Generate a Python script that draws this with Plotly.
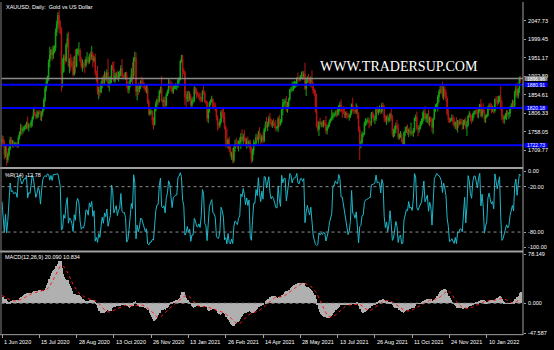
import plotly.graph_objects as go
import pandas as pd
import numpy as np

# ---------------- data ----------------
symbol_title = "XAUUSD, Daily:  Gold vs US Dollar"
wpr_title = "%R(14) -12.78"
macd_title = "MACD(12,26,9) 20.090 10.834"
watermark = "WWW.TRADERSUP.COM"

start_date = "2020-06-01"
end_date = "2022-02-18"
missing_days = ["2020-12-25", "2021-01-01", "2021-04-02", "2021-12-24"]

# closes before the visible window (indicator warm-up only, not drawn)
warmup_close = [1614, 1660, 1650, 1646, 1683, 1684, 1712, 1728, 1716, 1694, 1683, 1710, 1693, 1687,
                1713, 1729, 1735, 1705, 1686, 1700, 1708, 1702, 1705, 1688, 1698, 1702, 1697, 1714,
                1703, 1715, 1741, 1731, 1745, 1734, 1727, 1725, 1735, 1713, 1711, 1719, 1730]
first_open = 1730

close_weeks = [
    [1739, 1727, 1699, 1714, 1685], [1698, 1715, 1737, 1728, 1729], [1726, 1727, 1727, 1722, 1743],
    [1754, 1768, 1761, 1765, 1771], [1772, 1781, 1769, 1775, 1774], [1784, 1795, 1809, 1803, 1798],
    [1802, 1809, 1808, 1796, 1808], [1817, 1842, 1871, 1888, 1901], [1941, 1958, 1970, 1958, 1975],
    [1976, 2018, 2039, 2062, 2035], [2028, 1911, 1915, 1954, 1944], [1984, 2002, 1930, 1945, 1940],
    [1929, 1907, 1954, 1929, 1964], [1968, 1971, 1943, 1930, 1933], [1932, 1931, 1946, 1946, 1940],
    [1956, 1954, 1960, 1944, 1950], [1912, 1900, 1863, 1868, 1861], [1881, 1898, 1887, 1906, 1899],
    [1913, 1877, 1887, 1893, 1930], [1922, 1891, 1902, 1908, 1899], [1905, 1907, 1924, 1904, 1902],
    [1902, 1908, 1878, 1868, 1879], [1894, 1910, 1904, 1949, 1951], [1863, 1877, 1866, 1874, 1889],
    [1887, 1879, 1872, 1866, 1871], [1837, 1805, 1811, 1811, 1788], [1777, 1815, 1831, 1841, 1838],
    [1864, 1871, 1839, 1836, 1840], [1827, 1855, 1864, 1886, 1881], [1872, 1863, 1874, 1876],
    [1877, 1877, 1893, 1895], [1943, 1950, 1918, 1913, 1849], [1844, 1856, 1845, 1851, 1828],
    [1840, 1840, 1871, 1866, 1856], [1855, 1850, 1843, 1842, 1863], [1860, 1837, 1835, 1793, 1814],
    [1833, 1838, 1842, 1825, 1824], [1819, 1795, 1775, 1775, 1784], [1809, 1805, 1797, 1770, 1734],
    [1723, 1737, 1713, 1698, 1700], [1683, 1716, 1726, 1723, 1719], [1731, 1731, 1745, 1736, 1745],
    [1738, 1726, 1734, 1725, 1732], [1712, 1685, 1708, 1728], [1728, 1744, 1737, 1756, 1744],
    [1733, 1746, 1736, 1764, 1777], [1771, 1779, 1793, 1783, 1777], [1780, 1778, 1773, 1768, 1769],
    [1792, 1778, 1784, 1815, 1831], [1836, 1837, 1815, 1826, 1843], [1867, 1869, 1869, 1877, 1881],
    [1882, 1898, 1896, 1896, 1903], [1905, 1903, 1908, 1871, 1891], [1899, 1893, 1888, 1897, 1877],
    [1865, 1859, 1813, 1773, 1764], [1783, 1778, 1779, 1776, 1781], [1779, 1761, 1770, 1776, 1787],
    [1792, 1796, 1803, 1803, 1808], [1806, 1808, 1825, 1828, 1812], [1812, 1810, 1803, 1806, 1801],
    [1798, 1799, 1806, 1829, 1814], [1813, 1810, 1815, 1804, 1763], [1728, 1731, 1752, 1753, 1780],
    [1786, 1787, 1788, 1781, 1781], [1806, 1802, 1790, 1792, 1817], [1810, 1814, 1815, 1810, 1827],
    [1823, 1794, 1788, 1794, 1788], [1793, 1804, 1794, 1753, 1754], [1764, 1774, 1768, 1743, 1750],
    [1750, 1734, 1726, 1756, 1761], [1769, 1760, 1762, 1756, 1757], [1754, 1760, 1793, 1797, 1768],
    [1765, 1769, 1782, 1784, 1792], [1807, 1793, 1798, 1800, 1783], [1793, 1788, 1769, 1792, 1818],
    [1825, 1831, 1849, 1862, 1868], [1863, 1851, 1868, 1859, 1845], [1805, 1790, 1789, 1790, 1793],
    [1785, 1775, 1781, 1768, 1783], [1779, 1785, 1783, 1775, 1783], [1787, 1771, 1777, 1799, 1804],
    [1793, 1789, 1803, 1809], [1811, 1810, 1805, 1815, 1829], [1800, 1815, 1810, 1791, 1797],
    [1801, 1822, 1826, 1821, 1817], [1819, 1813, 1843, 1839, 1835], [1842, 1848, 1819, 1796, 1791],
    [1797, 1801, 1808, 1804, 1807], [1820, 1826, 1833, 1826, 1859], [1870, 1853, 1869, 1898, 1896.96],
]

upper_wick_weeks = [
    [10, 8, 10, 9, 13], [6, 5, 8, 7, 8], [6, 5, 4, 5, 6], [5, 11, 8, 6, 4], [5, 4, 17, 6, 5],
    [5, 4, 10, 15, 6], [12, 4, 6, 5, 4], [3, 6, 6, 9, 4], [6, 22, 4, 11, 8], [8, 10, 9, 8, 13],
    [14, 3, 34, 6, 6], [6, 13, 18, 5, 16], [13, 14, 2, 20, 11], [8, 21, 5, 10, 14], [6, 14, 8, 20, 8],
    [6, 12, 22, 6, 6], [12, 6, 30, 7, 16], [9, 4, 9, 10, 7], [8, 36, 15, 9, 3], [10, 20, 10, 6, 9],
    [10, 11, 8, 24, 5], [11, 6, 7, 12, 10], [6, 14, 30, 4, 16], [14, 6, 10, 8, 4], [13, 8, 8, 7, 10],
    [8, 6, 10, 5, 3], [8, 4, 6, 4, 10], [3, 5, 32, 5, 10], [9, 5, 4, 10, 8], [10, 15, 8, 6],
    [8, 6, 6, 5], [2, 9, 9, 6, 4], [15, 8, 10, 12, 6], [6, 10, 6, 4, 5], [7, 6, 10, 6, 4],
    [15, 5, 4, 4, 6], [4, 5, 10, 4, 10], [10, 4, 6, 8, 8], [6, 10, 15, 12, 4], [32, 4, 8, 8, 6],
    [16, 4, 11, 16, 12], [5, 12, 10, 20, 8], [18, 5, 8, 12, 4], [6, 7, 6, 10], [5, 9, 5, 5, 14],
    [10, 4, 12, 4, 8], [20, 6, 7, 14, 9], [8, 12, 7, 16, 4], [5, 10, 7, 3, 13], [7, 8, 15, 10, 4],
    [3, 6, 20, 12, 10], [8, 3, 15, 5, 3], [10, 12, 8, 30, 8], [4, 10, 8, 6, 22], [12, 6, 8, 44, 12],
    [4, 12, 6, 8, 8], [7, 20, 5, 6, 3], [3, 20, 6, 5, 6], [7, 11, 3, 8, 15], [10, 12, 8, 5, 6],
    [6, 5, 8, 3, 18], [6, 7, 17, 12, 4], [9, 5, 7, 3, 5], [8, 4, 8, 7, 4], [4, 5, 5, 8, 5],
    [8, 6, 12, 5, 7], [7, 4, 8, 6, 11], [6, 4, 14, 8, 12], [10, 8, 15, 11, 4], [10, 5, 7, 3, 10],
    [4, 8, 4, 8, 25], [6, 8, 2, 6, 14], [8, 6, 4, 9, 19], [9, 18, 8, 6, 16], [5, 5, 6, 3, 4],
    [5, 2, 5, 6, 10], [10, 26, 9, 8, 10], [5, 12, 6, 4, 10], [9, 12, 4, 15, 6], [6, 7, 8, 8, 6],
    [4, 9, 10, 3, 8], [4, 9, 4, 4], [4, 10, 6, 4, 2], [15, 5, 18, 6, 6], [4, 3, 6, 8, 11],
    [7, 5, 2, 8, 12], [10, 5, 29, 20, 7], [4, 6, 6, 7, 3], [5, 6, 9, 7, 6], [10, 17, 4, 4, 5],
]

lower_wick_weeks = [
    [6, 10, 12, 8, 15], [8, 5, 6, 8, 10], [10, 6, 8, 7, 5], [5, 6, 12, 8, 6], [8, 6, 5, 10, 4],
    [6, 12, 5, 4, 7], [6, 8, 4, 8, 10], [8, 4, 6, 8, 10], [10, 15, 10, 15, 10], [12, 8, 10, 12, 20],
    [16, 48, 37, 2, 10], [4, 6, 4, 19, 24], [5, 5, 2, 18, 3], [5, 12, 4, 7, 15], [8, 20, 5, 8, 6],
    [4, 10, 8, 18, 5], [6, 12, 8, 20, 10], [3, 10, 8, 7, 6], [10, 4, 14, 5, 8], [4, 4, 5, 7, 5],
    [10, 9, 4, 6, 7], [5, 8, 5, 9, 10], [5, 6, 25, 7, 8], [13, 23, 12, 5, 4], [6, 6, 5, 5, 8],
    [6, 5, 5, 8, 13], [13, 3, 4, 8, 10], [4, 6, 3, 12, 14], [8, 3, 4, 6, 10], [8, 5, 6, 5],
    [7, 10, 5, 10], [3, 5, 17, 5, 21], [27, 8, 10, 6, 5], [10, 8, 5, 10, 11], [5, 9, 8, 7, 6],
    [5, 4, 5, 8, 12], [6, 6, 4, 7, 8], [8, 7, 14, 9, 6], [4, 12, 15, 6, 17], [5, 10, 8, 6, 13],
    [7, 6, 10, 5, 6], [12, 8, 18, 4, 12], [6, 5, 12, 8, 7], [9, 8, 5, 10], [5, 4, 3, 10, 5],
    [8, 3, 8, 6, 6], [4, 11, 8, 6, 6], [9, 5, 6, 9, 6], [12, 8, 4, 3, 14], [8, 12, 5, 7, 6],
    [4, 6, 6, 5, 6], [8, 6, 8, 7, 5], [5, 10, 8, 4, 20], [6, 8, 6, 12, 6], [8, 8, 5, 4, 6],
    [17, 4, 8, 6, 7], [6, 8, 10, 4, 5], [6, 6, 7, 8, 5], [10, 6, 7, 14, 3], [18, 6, 9, 9, 10],
    [4, 11, 5, 3, 3], [8, 5, 6, 12, 5], [44, 13, 5, 8, 4], [7, 10, 6, 14, 9], [7, 8, 6, 12, 6],
    [5, 9, 6, 6, 5], [5, 10, 6, 12, 3], [6, 8, 6, 8, 10], [8, 10, 4, 6, 5], [8, 4, 5, 4, 10],
    [6, 10, 16, 6, 8], [6, 9, 4, 7, 6], [19, 9, 5, 8, 6], [5, 4, 10, 17, 6], [10, 4, 12, 17, 2],
    [8, 6, 20, 14, 5], [6, 6, 10, 12, 8], [5, 8, 8, 6, 5], [10, 6, 10, 6, 12], [8, 4, 5, 12, 10],
    [8, 6, 24, 5, 4], [8, 10, 4, 8], [6, 6, 10, 12, 6], [4, 5, 4, 8, 10], [3, 4, 8, 6, 10],
    [7, 8, 5, 8, 10], [5, 7, 5, 8, 11], [12, 6, 12, 8, 13], [10, 3, 6, 8, 5], [10, 7, 8, 10, 11],
]

level_prices = [1880.91, 1820.18, 1722.73]
price_ticks = [2047.73, 1999.45, 1951.17, 1902.89, 1854.61, 1806.33, 1758.05, 1709.77]
wpr_ticks = [0, -20, -80, -100]
wpr_tick_text = ["0.00", "-20.00", "-80.00", "-100.00"]
wpr_levels = [-20, -80]
macd_ticks = [78.149, 0.0, -47.587]
macd_tick_text = ["78.149", "0.000", "-47.587"]
x_label_dates = ["2020-06-01", "2020-07-15", "2020-08-28", "2020-10-13", "2020-11-26",
                 "2021-01-13", "2021-02-26", "2021-04-14", "2021-05-28", "2021-07-13",
                 "2021-08-26", "2021-10-11", "2021-11-24", "2022-01-10"]

# ---------------- derived series ----------------
close = [c for w in close_weeks for c in w]
uw = [v for w in upper_wick_weeks for v in w]
lw = [v for w in lower_wick_weeks for v in w]
dates = pd.bdate_range(start_date, end_date).drop(pd.to_datetime(missing_days))
N = min(len(close), len(uw), len(lw), len(dates))
close, uw, lw, dates = close[:N], uw[:N], lw[:N], dates[:N]
opens = [first_open] + close[:-1]
high = [max(o, c) + u for o, c, u in zip(opens, close, uw)]
low = [min(o, c) - l for o, c, l in zip(opens, close, lw)]
idx = list(range(N))

hs, ls, cs = pd.Series(high), pd.Series(low), pd.Series(close)
hh = hs.rolling(14, min_periods=1).max()
ll = ls.rolling(14, min_periods=1).min()
wpr = (-100 * (hh - cs) / (hh - ll).replace(0, np.nan)).fillna(-50)

full = pd.Series(warmup_close + close, dtype=float)
macd_full = full.ewm(span=12, adjust=False).mean() - full.ewm(span=26, adjust=False).mean()
sig_full = macd_full.rolling(9, min_periods=1).mean()
macd = macd_full.iloc[len(warmup_close):].to_numpy()
signal = sig_full.iloc[len(warmup_close):].to_numpy()

tick_pos = [dates.get_loc(pd.Timestamp(d)) for d in x_label_dates]
tick_txt = [pd.Timestamp(d).strftime("%-d %b %Y") for d in x_label_dates]

# ---------------- layout helpers ----------------
W, H = 554, 350
def fx(p): return p / W
def fy(p): return 1 - p / H

FONT = "Liberation Sans"
FS = 5.5
AXC = "#a0a0a0"
X_DOM = [fx(1.5), fx(523)]
X_RANGE = [-0.43, N + 1.1]
MAIN_RANGE = [1665.9, 2096.75]
MAIN_PX = 167.0
LABEL_HALF = 2.4 * (MAIN_RANGE[1] - MAIN_RANGE[0]) / MAIN_PX  # half box height in price units

fig = go.Figure()
fig.add_trace(go.Candlestick(
    x=idx, open=opens, high=high, low=low, close=close,
    increasing=dict(line=dict(color="#16a416", width=1), fillcolor="#16a416"),
    decreasing=dict(line=dict(color="#b41616", width=1), fillcolor="#b41616"),
    whiskerwidth=0, xaxis="x", yaxis="y", hoverinfo="skip"))

fig.add_trace(go.Scatter(x=idx, y=wpr, mode="lines", line=dict(color="#1fb6c8", width=1),
                         xaxis="x2", yaxis="y2", hoverinfo="skip"))

fig.add_trace(go.Bar(x=idx, y=macd, width=0.45, marker=dict(color="#b0b0b0", line=dict(width=0)),
                     xaxis="x3", yaxis="y3", hoverinfo="skip"))
fig.add_trace(go.Scatter(x=idx, y=signal, mode="lines", line=dict(color="#ff1a1a", width=1, dash="dot"),
                         xaxis="x3", yaxis="y3", hoverinfo="skip"))

shapes = []
for p in level_prices:
    shapes.append(dict(type="line", xref="x domain", yref="y", x0=0, x1=1, y0=p, y1=p,
                       line=dict(color="#0000ff", width=2)))
shapes.append(dict(type="line", xref="x domain", yref="y", x0=0, x1=1, y0=close[-1], y1=close[-1],
                   line=dict(color="#8a8a8a", width=1.5)))
for lv in wpr_levels:
    shapes.append(dict(type="line", xref="x2 domain", yref="y2", x0=0, x1=1, y0=lv, y1=lv,
                       line=dict(color="#8c8c8c", width=1, dash="dot")))
shapes.append(dict(type="line", xref="x3 domain", yref="y3", x0=0, x1=1, y0=0, y1=0,
                   line=dict(color="#8c8c8c", width=1, dash="dot")))
# price-label boxes on the right scale
for p, col in [(v, "#0000ff") for v in level_prices] + [(close[-1], "#8c8c8c")]:
    shapes.append(dict(type="rect", xref="paper", yref="y", x0=fx(524.5), x1=fx(547.5),
                       y0=p - LABEL_HALF, y1=p + LABEL_HALF, fillcolor=col, line=dict(width=0)))
# frame / separators
for yy, wd in [(168, 2), (252.5, 2), (336.5, 1)]:
    shapes.append(dict(type="line", xref="paper", yref="paper", x0=0, x1=fx(523), y0=fy(yy), y1=fy(yy),
                       line=dict(color=AXC, width=wd)))
shapes.append(dict(type="line", xref="paper", yref="paper", x0=fx(523), x1=fx(523), y0=fy(0), y1=fy(337),
                   line=dict(color=AXC, width=1)))
shapes.append(dict(type="line", xref="paper", yref="paper", x0=fx(1), x1=fx(1), y0=fy(0), y1=fy(337),
                   line=dict(color="#808080", width=1)))

ann = []
ann.append(dict(text=symbol_title, xref="paper", yref="paper", x=fx(4), y=fy(5), xanchor="left",
                yanchor="middle", showarrow=False, font=dict(family=FONT, size=FS, color="#ffffff")))
ann.append(dict(text=wpr_title, xref="paper", yref="paper", x=fx(3), y=fy(174.5), xanchor="left",
                yanchor="middle", showarrow=False, font=dict(family=FONT, size=FS, color="#ffffff")))
ann.append(dict(text=macd_title, xref="paper", yref="paper", x=fx(3), y=fy(257.5), xanchor="left",
                yanchor="middle", showarrow=False, font=dict(family=FONT, size=FS, color="#ffffff")))
ann.append(dict(text=watermark, xref="paper", yref="paper", x=fx(399), y=fy(65), xanchor="center",
                yanchor="middle", showarrow=False,
                font=dict(family="Liberation Serif", size=14, color="#ffffff")))
for p in level_prices + [close[-1]]:
    ann.append(dict(text=f"{p:.2f}", xref="paper", yref="y", x=fx(525.5), y=p, xanchor="left",
                    yanchor="middle", showarrow=False, borderpad=0,
                    font=dict(family=FONT, size=5, color="#ffffff")))
for pos, t in zip(tick_pos, tick_txt):
    ann.append(dict(text=t, xref="x3", yref="paper", x=pos, y=fy(343.5), xanchor="left",
                    yanchor="middle", showarrow=False, xshift=0,
                    font=dict(family=FONT, size=FS, color="#ffffff")))

def yax(dom, rng, tv, tt):
    return dict(domain=dom, range=rng, side="right", anchor="free", position=fx(523),
                tickvals=tv, ticktext=tt, ticks="outside", ticklen=2, tickcolor=AXC,
                ticklabelstandoff=1, showgrid=False, zeroline=False, showline=False, fixedrange=True,
                tickfont=dict(family=FONT, size=FS, color="#ffffff"))

def xax(anchor, extra=None):
    d = dict(domain=X_DOM, range=X_RANGE, anchor=anchor, showgrid=False, zeroline=False,
             showline=False, showticklabels=False, ticks="", fixedrange=True)
    if extra:
        d.update(extra)
    return d

# the tick at the bid price is hidden behind the bid box in the original; keep it but draw boxes above
fig.update_layout(
    width=W, height=H, margin=dict(l=0, r=0, t=0, b=0),
    paper_bgcolor="#000000", plot_bgcolor="#000000", showlegend=False,
    xaxis=xax("y", dict(rangeslider=dict(visible=False))),
    xaxis2=xax("y2"),
    xaxis3=xax("y3", dict(tickvals=tick_pos, ticks="outside", ticklen=3, tickcolor=AXC)),
    yaxis=yax([fy(MAIN_PX), fy(0)], MAIN_RANGE, price_ticks, [f"{v:.2f}" for v in price_ticks]),
    yaxis2=yax([fy(251), fy(169)], [-103.9, 3.27], wpr_ticks, wpr_tick_text),
    yaxis3=yax([fy(336), fy(254)], [-49.16, 79.72], macd_ticks, macd_tick_text),
    shapes=shapes, annotations=ann, bargap=0,
)

fig.write_html("out.html")
